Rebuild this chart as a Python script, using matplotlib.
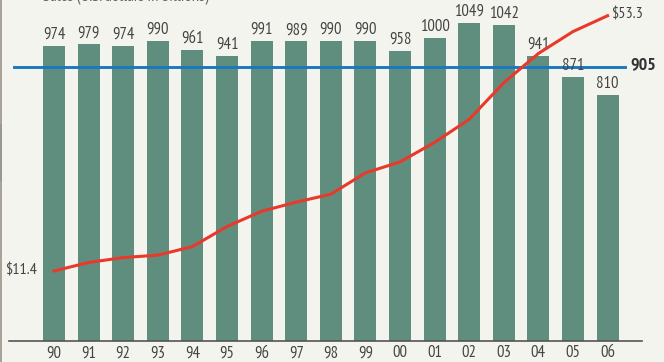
import numpy as np
from matplotlib import pyplot as plt
from matplotlib.lines import Line2D
from matplotlib.patches import Rectangle

years = ['90', '91', '92', '93', '94', '95', '96', '97', '98',
         '99', '00', '01', '02', '03', '04', '05', '06']
units = [974, 979, 974, 990, 961, 941, 991, 989, 990,
         990, 958, 1000, 1049, 1042, 941, 871, 810]
sales = [11.4, 12.8, 13.6, 14.0, 15.4, 18.7, 21.2, 22.7, 24.0,
         27.5, 29.3, 32.5, 36.3, 42.3, 47.1, 50.7, 53.3]
avg_units = 905

bg = '#f4f4ef'
bar_color = '#5f8e7e'
red = '#e8392a'
blue = '#1a78c2'
txt = '#444444'
font = ['PT Sans Narrow', 'DejaVu Sans']

fig = plt.figure(figsize=(6.64, 3.62), dpi=100, facecolor=bg)
ax = fig.add_axes([0, 0, 1, 1])
ax.set_facecolor(bg)
x = np.arange(len(years))

ax.bar(x, units, width=0.636, color=bar_color, zorder=2)
for xi, v in zip(x, units):
    ax.text(xi, v + 10, str(v), ha='center', va='bottom', fontsize=12,
            color=txt, family=font, zorder=4)

# average line across the chart
ax.plot([-1.16, 16.5], [avg_units, avg_units], color=blue, lw=2.1, zorder=3)
ax.text(16.65, avg_units + 5, str(avg_units), ha='left', va='center',
        fontsize=13, fontweight='bold', color='#333333', family=font)

# baseline and year labels
ax.plot([-1.3, 17.0], [0, 0], color='#555555', lw=1.2, zorder=3)
for xi, yr in zip(x, years):
    ax.text(xi, -41, yr, ha='center', va='center', fontsize=12,
            color=txt, family=font)

ax.set_xlim(-1.561, 17.63)
ax.set_ylim(-70, 1125)
ax.axis('off')

# sales line on its own scale
ax2 = ax.twinx()
ax2.plot(x, sales, color=red, lw=2.2, zorder=5)
ax2.set_ylim(-3.54, 55.88)
ax2.set_xlim(-1.561, 17.63)
ax2.axis('off')
ax2.text(x[0] - 0.5, sales[0], '$%.1f' % sales[0], ha='right', va='center',
         fontsize=11.5, color=txt, family=font)
ax2.text(x[-1] + 0.1, sales[-1] + 0.2, '$%.1f' % sales[-1], ha='left',
         va='center', fontsize=11.5, color=txt, family=font)

# header sits mostly above the top edge
fig.text(43 / 664, 1 - 1.5 / 362, 'Sales (U.S. dollars in billions)',
         ha='left', va='baseline', fontsize=12, color='#666666', family=font)

# left frame edge
fig.add_artist(Line2D([1.2 / 664, 1.2 / 664], [0, 1], color='#a09a90', lw=1.3))
fig.add_artist(Rectangle((0, 1 - 181 / 362), 1.5 / 664, 57 / 362,
                         color=bar_color, lw=0))

fig.savefig('out.png', dpi=100, facecolor=bg)
